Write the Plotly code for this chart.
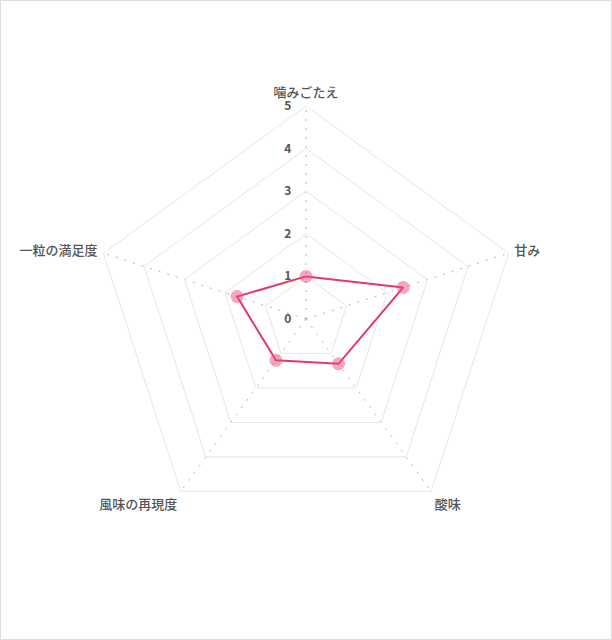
import plotly.graph_objects as go

# Chart data
categories = ["噛みごたえ", "甘み", "酸味", "風味の再現度", "一粒の満足度"]
scores = [1.0, 2.4, 1.3, 1.2, 1.7]
tick_values = [0, 1, 2, 3, 4, 5]

W, H = 612, 640
ml, mr, mt, mb = 93, 93, 106, 108
pw, ph = W - ml - mr, H - mt - mb

line_color = "#e8356b"
font_family = "Noto Sans CJK JP, Noto Sans, sans-serif"

fig = go.Figure()

# closed outline
fig.add_trace(go.Scatterpolar(
    r=scores + [scores[0]],
    theta=categories + [categories[0]],
    mode="lines",
    line=dict(color=line_color, width=2),
    hoverinfo="skip",
    showlegend=False,
))

# point markers
fig.add_trace(go.Scatterpolar(
    r=scores,
    theta=categories,
    mode="markers",
    marker=dict(size=13, color="rgba(236,80,125,0.5)", line=dict(width=0)),
    showlegend=False,
))

fig.update_layout(
    width=W, height=H,
    margin=dict(l=ml, r=mr, t=mt, b=mb),
    paper_bgcolor="white",
    font=dict(family=font_family, color="#555555", size=13),
    polar=dict(
        bgcolor="white",
        gridshape="linear",
        radialaxis=dict(
            range=[0, 5],
            tickvals=tick_values,
            angle=90,
            tickangle=90,
            side="counterclockwise",
            showline=False,
            ticks="outside",
            ticklen=10,
            tickcolor="rgba(0,0,0,0)",
            gridcolor="#e6e6e6",
            gridwidth=1,
            tickfont=dict(size=12, color="#555555", weight="bold"),
        ),
        angularaxis=dict(
            rotation=90,
            direction="clockwise",
            showline=True,
            linecolor="#e6e6e6",
            linewidth=1,
            gridcolor="#b5b5b5",
            griddash="2px,7px",
            ticks="outside",
            ticklen=3,
            tickcolor="rgba(0,0,0,0)",
            tickfont=dict(size=13, color="#555555", weight=500),
        ),
    ),
)

# thin frame around the whole picture
fig.add_shape(
    type="rect", xref="paper", yref="paper",
    x0=(0.5 - ml) / pw, x1=(W - 0.5 - ml) / pw,
    y0=(H - mb - (H - 0.5)) / ph, y1=(H - mb - 0.5) / ph,
    line=dict(color="#dddddd", width=1),
)

fig.write_html(
    "out.html",
    config={"displayModeBar": False},
    post_script="document.body.style.margin='0';document.body.style.overflow='hidden';",
)
